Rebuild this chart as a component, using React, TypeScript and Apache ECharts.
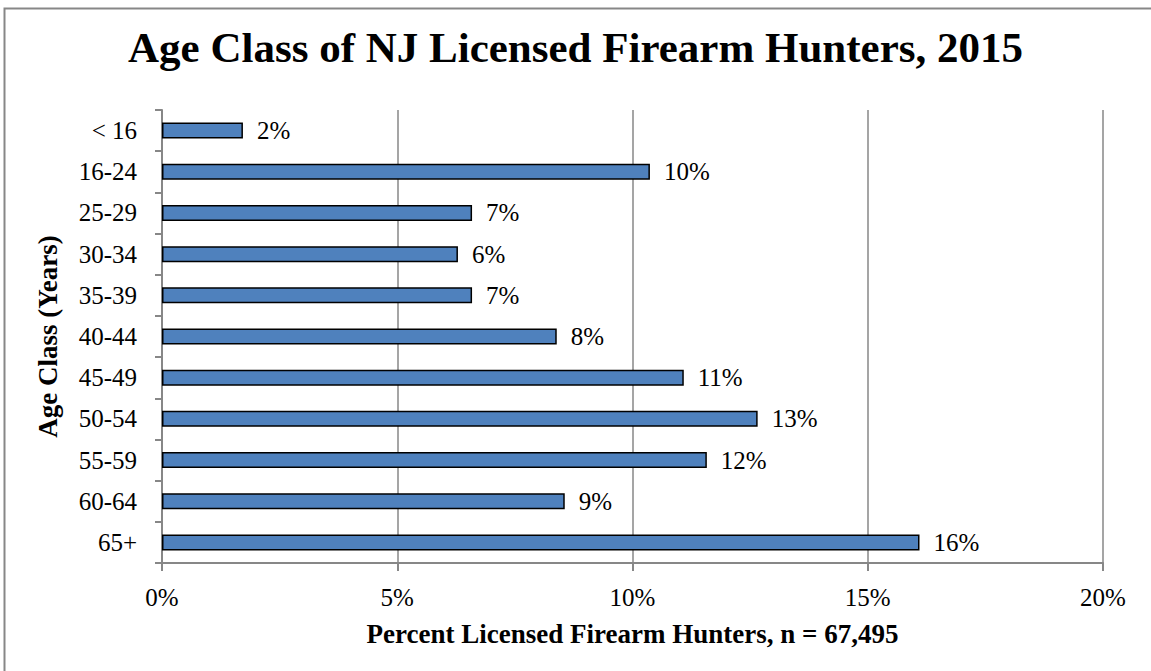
import React, { useEffect, useRef } from "react";
import * as echarts from "echarts";

const categories = ["< 16", "16-24", "25-29", "30-34", "35-39", "40-44", "45-49", "50-54", "55-59", "60-64", "65+"];
const percents = [1.72, 10.37, 6.59, 6.29, 6.59, 8.39, 11.09, 12.66, 11.58, 8.56, 16.1];
const xTicks = { min: 0, max: 20, interval: 5 };

const FONT = "'Liberation Serif', 'Times New Roman', serif";
const GRAY = "#878787";

export default function App() {
  const ref = useRef<HTMLDivElement>(null);
  useEffect(() => {
    if (!ref.current) return;
    const chart = echarts.init(ref.current, null, { renderer: "svg" });
    chart.setOption({
      animation: false,
      backgroundColor: "#ffffff",
      textStyle: { fontFamily: FONT },
      title: {
        text: "Age Class of NJ Licensed Firearm Hunters, 2015",
        left: "center",
        top: 21,
        textStyle: { fontFamily: FONT, fontWeight: "bold", fontSize: 43, color: "#000" },
      },
      graphic: [
        {
          type: "rect",
          shape: { x: 4.5, y: 8.5, width: 1200, height: 700 },
          style: { fill: "none", stroke: GRAY, lineWidth: 2 },
          silent: true,
          z: -1,
        },
      ],
      grid: { left: 162, right: 48, top: 110, bottom: 108, containLabel: false },
      xAxis: {
        type: "value",
        min: xTicks.min,
        max: xTicks.max,
        interval: xTicks.interval,
        axisLine: { show: true, lineStyle: { color: GRAY, width: 2 } },
        axisTick: { show: true, length: 8, lineStyle: { color: GRAY, width: 2 } },
        splitLine: { show: true, lineStyle: { color: GRAY, width: 1.5 } },
        axisLabel: {
          formatter: "{value}%",
          fontFamily: FONT,
          fontSize: 25,
          color: "#000",
          margin: 22,
        },
        name: "Percent Licensed Firearm Hunters, n = 67,495",
        nameLocation: "middle",
        nameGap: 57,
        nameTextStyle: { fontFamily: FONT, fontSize: 27, fontWeight: "bold", color: "#000" },
      },
      yAxis: {
        type: "category",
        data: categories,
        inverse: true,
        axisLine: { show: true, lineStyle: { color: GRAY, width: 2 } },
        axisTick: { show: true, length: 7, lineStyle: { color: GRAY, width: 2 } },
        axisLabel: { fontFamily: FONT, fontSize: 25, color: "#000", margin: 25 },
        name: "Age Class (Years)",
        nameLocation: "middle",
        nameGap: 101,
        nameRotate: 90,
        nameTextStyle: { fontFamily: FONT, fontSize: 27, fontWeight: "bold", color: "#000" },
      },
      series: [
        {
          type: "bar",
          data: percents,
          barWidth: 16,
          itemStyle: { color: "#4F81BD", borderColor: "#000", borderWidth: 1.5 },
          label: {
            show: true,
            position: "right",
            distance: 14,
            formatter: (p: any) => Math.round(p.value) + "%",
            fontFamily: FONT,
            fontSize: 25,
            color: "#000",
          },
        },
      ],
    });
    return () => chart.dispose();
  }, []);
  return (
    <div
      ref={ref}
      style={{ position: "fixed", left: 0, top: 0, width: 1151, height: 671 }}
    />
  );
}
